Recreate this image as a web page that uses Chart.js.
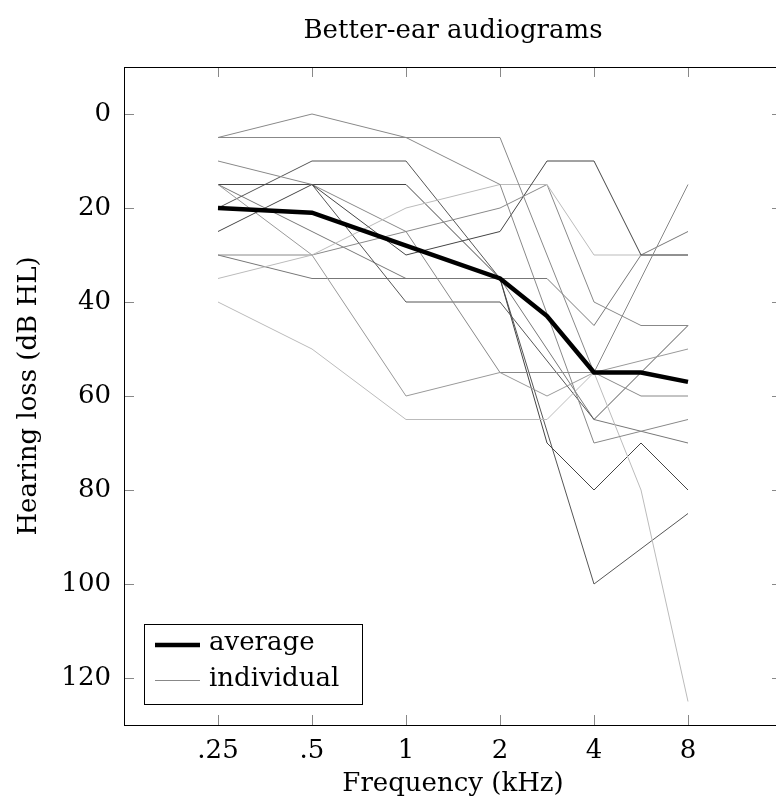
<!DOCTYPE html>
<html>
<head>
<meta charset="utf-8">
<script src="https://cdn.jsdelivr.net/npm/chart.js@4"></script>
<style>
html, body { margin: 0; padding: 0; background: #fff; overflow: hidden; }
#wrap { width: 776px; height: 807px; overflow: hidden; }
#box { width: 790px; height: 807px; }
</style>
</head>
<body>
<div id="wrap"><div id="box"><canvas id="mycanvas"></canvas></div></div>
<script>
// positions on the octave axis: .25 .5 1 2 3 4 6 8 kHz
var freqPos = [0, 1, 2, 3, 3.5, 4, 4.5, 5];
var tickPos = [0, 1, 2, 3, 4, 5];
var tickLabels = ['.25', '.5', '1', '2', '4', '8'];
var yTicks = [0, 20, 40, 60, 80, 100, 120];

var average = [20, 21, 28, 35, 43, 55, 55, 57];

// individual better-ear thresholds (dB HL), null = not measured
var ear1  = [5, 0, 5, 15, null, 70, null, 65];
var ear2  = [5, 5, 5, 5, null, 55, null, 15];
var ear3  = [25, 15, 30, 25, 10, 10, 30, 30];
var ear4  = [35, 30, 20, 15, 15, 30, 30, 30];
var ear5  = [30, 30, 25, 20, 15, 40, 45, 45];
var ear6  = [40, 50, 65, 65, 65, 55, 80, 125];
var ear7  = [15, 30, 60, 55, 60, 55, null, 50];
var ear8  = [10, 15, 25, 55, 55, 55, 60, 60];
var ear9  = [15, 15, 15, 35, 70, 80, 70, 80];
var ear10 = [15, 15, 40, 40, null, 65, null, 45];
var ear11 = [30, 35, 35, 35, 35, 45, 30, 25];
var ear12 = [20, 10, 10, 35, null, 100, null, 85];
var ear13 = [15, 25, 35, 35, null, 65, null, 70];

var ears = [ear1, ear2, ear3, ear4, ear5, ear6, ear7, ear8, ear9, ear10, ear11, ear12, ear13];
var earColors = ['#888', '#888', '#444', '#bbb', '#888', '#bbb', '#999', '#888', '#444', '#555', '#777', '#555', '#777'];

function toPoints(arr) {
	var pts = [];
	for (var i in arr) {
		if (arr[i] !== null) pts.push({ x: freqPos[i], y: arr[i] });
	}
	return pts;
}

var datasets = [{
	label: 'average',
	data: toPoints(average),
	borderColor: '#000',
	borderWidth: 4.5,
	pointRadius: 0,
	borderJoinStyle: 'miter'
}];
for (var i in ears) {
	datasets.push({
		label: 'individual',
		data: toPoints(ears[i]),
		borderColor: earColors[i],
		borderWidth: 1,
		pointRadius: 0
	});
}

var serif = "'DejaVu Serif', 'Liberation Serif', serif";
var fontSize = 26;
Chart.defaults.font.family = serif;
Chart.defaults.font.size = fontSize;
Chart.defaults.color = '#000';

// frame, inward ticks, title and the legend box
var frame = {
	id: 'frame',
	afterDatasetsDraw: function(chart) {
		var ctx = chart.ctx, a = chart.chartArea;
		var sx = chart.scales.x, sy = chart.scales.y;
		ctx.save();
		ctx.lineWidth = 1;
		ctx.strokeStyle = '#888';
		ctx.beginPath();
		tickPos.forEach(function(v) {
			var px = Math.round(sx.getPixelForValue(v)) + 0.5;
			ctx.moveTo(px, a.bottom); ctx.lineTo(px, a.bottom - 10);
			ctx.moveTo(px, a.top); ctx.lineTo(px, a.top + 10);
		});
		yTicks.forEach(function(v) {
			var py = Math.round(sy.getPixelForValue(v)) + 0.5;
			ctx.moveTo(a.left, py); ctx.lineTo(a.left + 10, py);
			ctx.moveTo(a.right, py); ctx.lineTo(a.right - 10, py);
		});
		ctx.stroke();
		ctx.strokeStyle = '#000';
		ctx.strokeRect(Math.round(a.left) + 0.5, Math.round(a.top) + 0.5, a.right - a.left, a.bottom - a.top);

		ctx.fillStyle = '#000';
		ctx.font = fontSize + 'px ' + serif;
		ctx.textAlign = 'center';
		ctx.textBaseline = 'middle';
		ctx.fillText('Better-ear audiograms', (a.left + a.right) / 2, 31);

		// legend
		var lx = a.left + 20, ly = a.bottom - 101;
		ctx.fillStyle = '#fff';
		ctx.fillRect(lx, ly, 218, 80);
		ctx.strokeRect(Math.round(lx) + 0.5, Math.round(ly) + 0.5, 218, 80);
		ctx.beginPath();
		ctx.lineWidth = 4.5; ctx.strokeStyle = '#000';
		ctx.moveTo(lx + 11, ly + 21); ctx.lineTo(lx + 56, ly + 21);
		ctx.stroke();
		ctx.beginPath();
		ctx.lineWidth = 1; ctx.strokeStyle = '#888';
		ctx.moveTo(lx + 11, ly + 56.5); ctx.lineTo(lx + 56, ly + 56.5);
		ctx.stroke();
		ctx.fillStyle = '#000';
		ctx.textAlign = 'left';
		ctx.fillText('average', lx + 65, ly + 19);
		ctx.fillText('individual', lx + 65, ly + 55);
		ctx.restore();
	}
};

var ctx = document.getElementById('mycanvas');
var chart = new Chart(ctx, {
	type: 'line',
	data: { datasets: datasets },
	options: {
		responsive: true,
		maintainAspectRatio: false,
		animation: false,
		layout: { padding: { left: 0, right: 8, top: 67, bottom: 0 } },
		plugins: {
			legend: { display: false },
			tooltip: { enabled: false }
		},
		scales: {
			x: {
				type: 'linear',
				min: -1,
				max: 6,
				afterBuildTicks: function(s) { s.ticks = tickPos.map(function(v) { return { value: v }; }); },
				afterFit: function(s) { s.height = 82; },
				grid: { display: false, drawTicks: false },
				border: { display: false },
				ticks: {
					padding: 11,
					autoSkip: false,
					maxRotation: 0,
					callback: function(v) { return tickLabels[tickPos.indexOf(v)]; }
				},
				title: { display: true, text: 'Frequency (kHz)', padding: { top: 0, bottom: 7 } }
			},
			y: {
				type: 'linear',
				reverse: true,
				min: -10,
				max: 130,
				afterBuildTicks: function(s) { s.ticks = yTicks.map(function(v) { return { value: v }; }); },
				afterFit: function(s) { s.width = 124; },
				grid: { display: false, drawTicks: false },
				border: { display: false },
				ticks: { padding: 13 },
				title: { display: true, text: 'Hearing loss (dB HL)', padding: { top: 14, bottom: 8 } }
			}
		}
	},
	plugins: [frame]
});
</script>
</body>
</html>
